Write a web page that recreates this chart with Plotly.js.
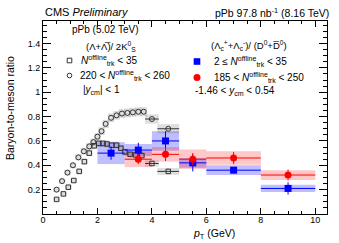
<!DOCTYPE html>
<html><head><meta charset="utf-8">
<script src="https://cdn.plot.ly/plotly-3.0.1.min.js"></script>
<style>body{margin:0;padding:0;background:#fff}#c{width:339px;height:243px}</style>
</head><body><div id="c"></div>
<script>
// Lambda/2KS, pPb 5.02 TeV, 220 < N < 260 (open circles)
const hmX = [0.5,0.7,0.9,1.1,1.3,1.5,1.7,1.85,2.0,2.15,2.3,2.5,2.7,2.9,3.1,3.3,3.5,3.7,4.0,4.6];
const hmY = [0.20,0.27,0.34,0.40,0.465,0.515,0.555,0.59,0.635,0.68,0.74,0.79,0.81,0.825,0.83,0.835,0.84,0.84,0.78,0.70];
const hmXerr = [0,0,0,0,0,0,0,0,0,0,0,0,0,0,0,0,0,0,0.25,0.4];
const hmSys = [0.02,0.02,0.022,0.024,0.025,0.027,0.028,0.03,0.03,0.032,0.034,0.036,0.036,0.037,0.037,0.037,0.038,0.038,0.038,0.038];
// Lambda/2KS, pPb 5.02 TeV, N < 35 (open squares)
const lmX = [0.5,0.75,0.93,1.13,1.33,1.52,1.7,1.88,2.05,2.2,2.35,2.52,2.7,2.86,3.01,3.2,3.4,3.63,4.0,4.6];
const lmY = [0.12,0.165,0.22,0.275,0.35,0.43,0.50,0.56,0.58,0.58,0.575,0.565,0.565,0.54,0.51,0.49,0.485,0.48,0.415,0.35];
const lmXerr = [0,0,0,0,0,0,0,0,0,0,0,0,0,0,0,0,0,0,0.25,0.4];
const lmSys = [0.015,0.016,0.018,0.02,0.022,0.024,0.026,0.027,0.028,0.028,0.028,0.028,0.028,0.027,0.026,0.025,0.025,0.025,0.025,0.028];
// Lambda_c/D0, pPb 8.16 TeV, 2 <= N < 35 (blue)
const loX = [2.5,3.5,4.5,5.5,7,9];
const loXerr = [0.5,0.5,0.5,0.5,1,1];
const loY = [0.50,0.525,0.60,0.42,0.36,0.21];
const loStat = [0.055,0.06,0.08,0.07,0.025,0.05];
const loSys = [0.09,0.05,0.08,0.04,0.04,0.03];
// Lambda_c/D0, pPb 8.16 TeV, 185 < N < 250 (red)
const hiX = [3.5,4.5,5.5,7,9];
const hiXerr = [0.5,0.5,0.5,1,1];
const hiY = [0.45,0.49,0.45,0.46,0.32];
const hiStat = [0.04,0.055,0.05,0.05,0.045];
const hiSys = [0.065,0.06,0.08,0.055,0.04];

const xTicks = [0,2,4,6,8,10];
const yTicks = [0.2,0.4,0.6,0.8,1,1.2,1.4];

const shapes = [];
function boxes(xs, ys, hw, sys, color) {
  xs.forEach((x,i)=>{
    const w = hw[i] > 0 ? hw[i] : 0.12;
    shapes.push({type:'rect', xref:'x', yref:'y', x0:x-w, x1:x+w, y0:ys[i]-sys[i], y1:ys[i]+sys[i],
      fillcolor:color, line:{width:0}, layer:'below'});
  });
}
boxes(hmX, hmY, hmXerr, hmSys, 'rgba(0,0,0,0.13)');
boxes(lmX, lmY, lmXerr, lmSys, 'rgba(0,0,0,0.13)');
boxes(loX, loY, loXerr, loSys, 'rgba(0,0,255,0.25)');
boxes(hiX, hiY, hiXerr, hiSys, 'rgba(255,0,0,0.22)');

// legend marker shapes (paper coordinates, pixel size)
function pm(px, py, half, type, fill, line) {
  const xa = (px-43)/284, ya = (214-py)/193;
  shapes.push({type:type, xref:'paper', yref:'paper', xsizemode:'pixel', ysizemode:'pixel',
    xanchor:xa, yanchor:ya, x0:-half, x1:half, y0:-half, y1:half,
    fillcolor:fill, line:{color:line, width:line==='rgba(0,0,0,0)'?0:1}});
}
pm(69.5, 60.5, 2.3, 'rect', 'rgba(0,0,0,0)', '#333');
pm(69.5, 75.5, 2.3, 'circle', 'rgba(0,0,0,0)', '#333');
pm(197, 61.5, 3.3, 'rect', '#0000ff', 'rgba(0,0,0,0)');
pm(197, 77.5, 3.5, 'circle', '#ff0000', 'rgba(0,0,0,0)');

const traces = [
  {x:hmX, y:hmY, type:'scatter', mode:'markers',
   marker:{symbol:'circle-open', size:5, color:'#333', line:{width:1}},
   error_x:{type:'data', array:hmXerr, color:'#333', thickness:1, width:0}},
  {x:lmX, y:lmY, type:'scatter', mode:'markers',
   marker:{symbol:'square-open', size:4.5, color:'#333', line:{width:1}},
   error_x:{type:'data', array:lmXerr, color:'#333', thickness:1, width:0}},
  {x:loX, y:loY, type:'scatter', mode:'markers',
   marker:{symbol:'square', size:7, color:'#0000ff'},
   error_x:{type:'data', array:loXerr, color:'#0000ff', thickness:1, width:0},
   error_y:{type:'data', array:loStat, color:'#0000ff', thickness:1, width:0}},
  {x:hiX, y:hiY, type:'scatter', mode:'markers',
   marker:{symbol:'circle', size:7, color:'#ff0000'},
   error_x:{type:'data', array:hiXerr, color:'#ff0000', thickness:1, width:0},
   error_y:{type:'data', array:hiStat, color:'#ff0000', thickness:1, width:0}}
];

const F = 'Liberation Sans, Arial, sans-serif';
function P(px){return (px-43)/284;}
function Q(py){return (214-py)/193;}
const ann = [];
function A(text, px, py, xanchor, size, extra) {
  ann.push(Object.assign({text:text, xref:'paper', yref:'paper', x:P(px), y:Q(py),
    xanchor:xanchor, yanchor:'middle', showarrow:false, font:{family:F, size:size, color:'#000'}}, extra||{}));
}
A('CMS <i>Preliminary</i>', 43, 12, 'left', 11);
A('pPb 97.8 nb<sup>-1</sup> (8.16 TeV)', 331, 12, 'right', 10.5);
A('pPb (5.02 TeV)', 105.5, 29, 'center', 10);
A('(Λ+Λ̅)/ 2K<sup>0</sup><sub>S</sub>', 111, 46, 'center', 9.5);
A('<i>N</i><sup>offline</sup><sub>trk</sub> < 35', 79, 60.5, 'left', 10);
A('220 < <i>N</i><sup>offline</sup><sub>trk</sub> < 260', 78, 75.5, 'left', 10);
A('|<i>y</i><sub>cm</sub>| < 1', 101, 90, 'center', 10);
A('(Λ<sub>c</sub><sup>+</sup>+Λ<sub>c</sub><sup>-</sup>)/ (D<sup>0</sup>+D̅<sup>0</sup>)', 249, 45, 'center', 9.5);
A('2 ≤ <i>N</i><sup>offline</sup><sub>trk</sub> < 35', 212, 61.5, 'left', 10);
A('185 < <i>N</i><sup>offline</sup><sub>trk</sub> < 250', 212, 77.5, 'left', 10);
A('-1.46 < <i>y</i><sub>cm</sub> < 0.54', 235, 91, 'center', 10);
A('Baryon-to-meson ratio', 10, 108, 'center', 10.5, {textangle:-90});
A('<i>p</i><sub>T</sub> (GeV)', 214, 234, 'center', 10.5);

const axCommon = {showgrid:false, zeroline:false, showline:true, linecolor:'#000', linewidth:1,
  mirror:'allticks', ticks:'inside', tickcolor:'#000', tickwidth:1,
  tickfont:{family:F, size:9, color:'#000'}};

const layout = {
  width:339, height:243, margin:{l:43, r:12, t:21, b:29},
  paper_bgcolor:'#fff', plot_bgcolor:'#fff', showlegend:false,
  xaxis:Object.assign({}, axCommon, {range:[0,10.43], tickvals:xTicks, ticklen:6, ticklabelstandoff:-3,
    minor:{dtick:0.5, ticklen:3, ticks:'inside', tickcolor:'#000'}}),
  yaxis:Object.assign({}, axCommon, {range:[0,1.585], tickvals:yTicks, ticklen:8,
    minor:{tickvals:[0.05,0.1,0.15,0.25,0.3,0.35,0.45,0.5,0.55,0.65,0.7,0.75,0.85,0.9,0.95,1.05,1.1,1.15,1.25,1.3,1.35,1.45,1.5,1.55], ticklen:4, ticks:'inside', tickcolor:'#000'}}),
  shapes:shapes, annotations:ann
};
Plotly.newPlot('c', traces, layout, {staticPlot:true, displayModeBar:false});
</script></body></html>
